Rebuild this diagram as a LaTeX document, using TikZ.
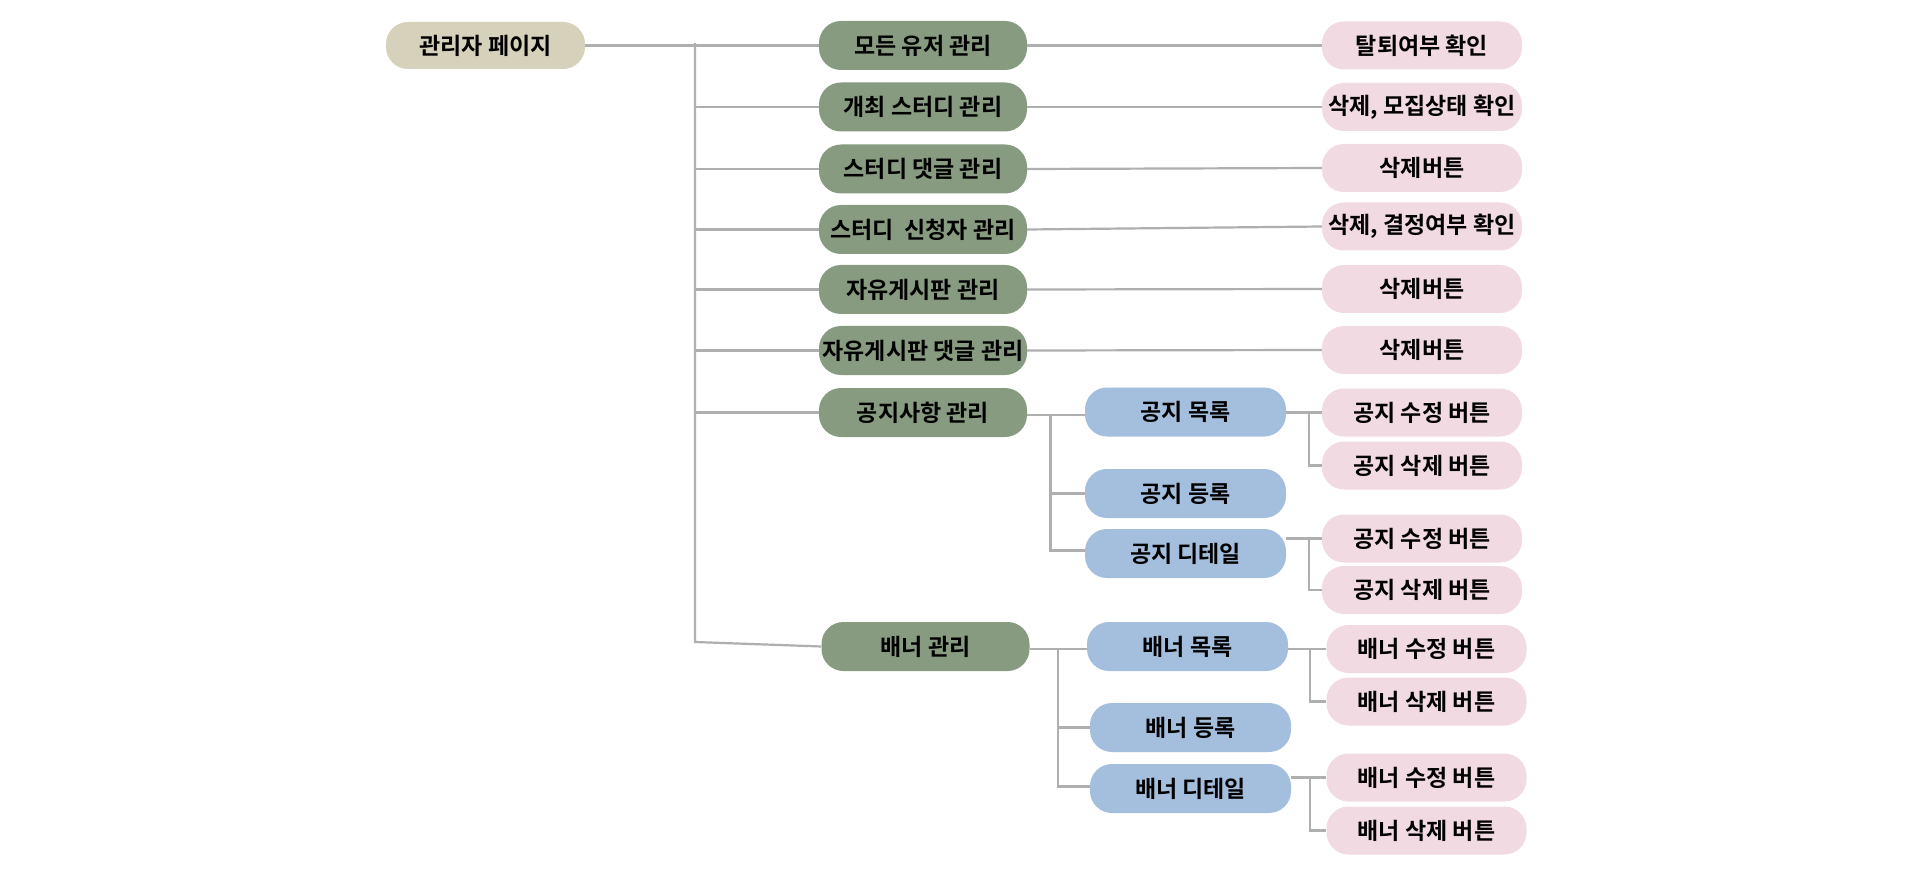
\documentclass[tikz,border=0pt]{standalone}
\usepackage{fontspec}
\setmainfont{Noto Sans CJK KR}[BoldFont={* Bold}]
\newfontfamily\kr{Noto Sans CJK KR Bold}
\usetikzlibrary{positioning}
\definecolor{cbeige}{HTML}{D6D1BA}
\definecolor{cgreen}{HTML}{879B80}
\definecolor{cblue}{HTML}{A4BFDD}
\definecolor{cpink}{HTML}{F2DAE2}
\definecolor{cline}{HTML}{AFAFAF}
\tikzset{
  pill/.style={rounded corners=22pt, inner sep=0pt, font=\kr\fontsize{23}{27}\selectfont, text=black},
  rootbox/.style={pill, fill=cbeige, minimum width=199pt, minimum height=47pt},
  gbox/.style={pill, fill=cgreen, minimum width=208pt, minimum height=49pt},
  bbox/.style={pill, fill=cblue, minimum width=201pt, minimum height=49pt},
  pbox/.style={pill, fill=cpink, minimum width=200pt, minimum height=48pt},
  conn/.style={draw=cline, line width=2.2pt},
}
\begin{document}
\begin{tikzpicture}[x=1pt,y=-1pt]
\fill[white] (0,0) rectangle (1920,877);
\useasboundingbox (0,0) rectangle (1920,877);
% root
\node[rootbox] (root) at (485.5,45.5) {관리자 페이지};
% level 1
\node[gbox] (g1) at (923,45.5) {모든 유저 관리};
\node[gbox] (g2) at (923,107) {개최 스터디 관리};
\node[gbox] (g3) at (923,169) {스터디 댓글 관리};
\node[gbox] (g4) at (923,229.5) {스터디\ \ 신청자 관리};
\node[gbox] (g5) at (923,289.5) {자유게시판 관리};
\node[gbox] (g6) at (923,350.5) {자유게시판 댓글 관리};
\node[gbox] (g7) at (923,412.5) {공지사항 관리};
\node[gbox] (g8) at (925.5,646.5) {배너 관리};
% right pink
\node[pbox] (p1) at (1422,45.5) {탈퇴여부 확인};
\node[pbox] (p2) at (1422,107) {삭제, 모집상태 확인};
\node[pbox] (p3) at (1422,168) {삭제버튼};
\node[pbox] (p4) at (1422,226.5) {삭제, 결정여부 확인};
\node[pbox] (p5) at (1422,289) {삭제버튼};
\node[pbox] (p6) at (1422,350) {삭제버튼};
% notice
\node[bbox] (n1) at (1185.5,412) {공지 목록};
\node[bbox] (n2) at (1185.5,493.5) {공지 등록};
\node[bbox] (n3) at (1185.5,553.5) {공지 디테일};
\node[pbox] (np1) at (1422,412.5) {공지 수정 버튼};
\node[pbox] (np2) at (1422,465.5) {공지 삭제 버튼};
\node[pbox] (np3) at (1422,538.5) {공지 수정 버튼};
\node[pbox] (np4) at (1422,590) {공지 삭제 버튼};
% banner
\node[bbox] (b1) at (1187.5,646.5) {배너 목록};
\node[bbox] (b2) at (1190.5,727.5) {배너 등록};
\node[bbox] (b3) at (1190.5,788.5) {배너 디테일};
\node[pbox] (bp1) at (1426.5,649) {배너 수정 버튼};
\node[pbox] (bp2) at (1426.5,701.5) {배너 삭제 버튼};
\node[pbox] (bp3) at (1426.5,777.5) {배너 수정 버튼};
\node[pbox] (bp4) at (1426.5,830.5) {배너 삭제 버튼};
% trunk
\coordinate (ttop) at (695,43);
\coordinate (tbot) at (695,642);
\draw[conn] (root.east) -- (g1.west);
\draw[conn] (ttop) -- (tbot) -- (g8.west);
\foreach \g in {g2,g3,g4,g5,g6,g7} \draw[conn] (ttop |- \g.west) -- (\g.west);
% level1 to pink
\draw[conn] (g1.east) -- (p1.west);
\draw[conn] (g2.east) -- (p2.west);
\draw[conn] (g3.east) -- (p3.west);
\draw[conn] (g4.east) -- (p4.west);
\draw[conn] (g5.east) -- (p5.west);
\draw[conn] (g6.east) -- (p6.west);
% notice branches
\coordinate (nb) at (1050.5,415);
\draw[conn] (g7.east |- nb) -- (n1.west |- nb);
\draw[conn] (nb) |- (n2.west);
\draw[conn] (nb) |- ([yshift=3pt]n3.west);
\coordinate (nb1) at (1309,412.5);
\draw[conn] (n1.east |- np1.west) -- (np1.west);
\draw[conn] (nb1) |- (np2.west);
\coordinate (nb2) at (1309,538.5);
\draw[conn] (n3.east |- np3.west) -- (np3.west);
\draw[conn] (nb2) |- (np4.west);
% banner branches
\coordinate (bb) at (1058,649);
\draw[conn] (g8.east |- bb) -- (b1.west |- bb);
\draw[conn] (bb) |- (b2.west);
\draw[conn] (bb) |- ([yshift=2pt]b3.west);
\coordinate (bb1) at (1310,649);
\draw[conn] (b1.east |- bp1.west) -- (bp1.west);
\draw[conn] (bb1) |- (bp2.west);
\coordinate (bb2) at (1310,778);
\draw[conn] (b3.east |- bp3.west) -- (bp3.west);
\draw[conn] (bb2) |- (bp4.west);
\end{tikzpicture}
\end{document}
